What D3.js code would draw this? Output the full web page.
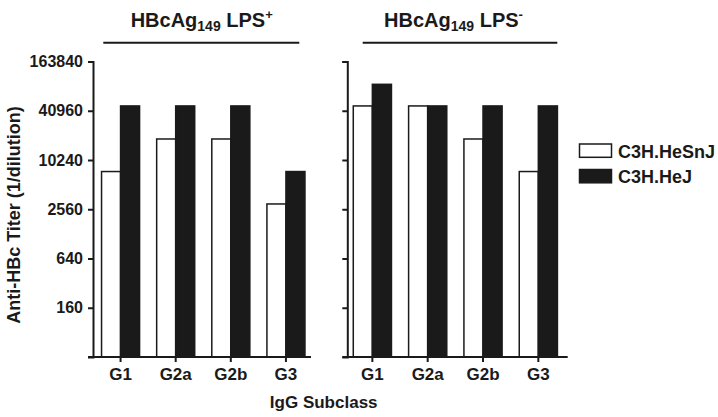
<!DOCTYPE html>
<html>
<head>
<meta charset="utf-8">
<script src="https://cdn.jsdelivr.net/npm/d3@7"></script>
<style>
  body { margin: 0; background: #fff; }
  svg text { font-family: "Liberation Sans", Arial, sans-serif; fill: #1a1a1a; }
</style>
</head>
<body>
<div id="chart"></div>
<script>
// data
var subclasses = ["G1", "G2a", "G2b", "G3"];
var strains = ["C3H.HeSnJ", "C3H.HeJ"];
var lpsPlusHeSnJ = [7400, 18500, 18500, 2970];
var lpsPlusHeJ = [46900, 46900, 46900, 7400];
var lpsMinusHeSnJ = [46900, 46900, 18500, 7400];
var lpsMinusHeJ = [86200, 46900, 46900, 46900];
var yTicks = [160, 640, 2560, 10240, 40960, 163840];
var yDomain = [40, 163840];

var width = 718, height = 417;
var fills = ["#ffffff", "#1a1a1a"];

var svg = d3.select("#chart").append("svg")
  .attr("width", width)
  .attr("height", height);

var y = d3.scaleLog().base(2)
  .domain(yDomain)
  .range([357, 61.5]);

var panels = [
  { title: "LPS", sign: "+", axisX: 93, band: [93, 313.5], axisEnd: 311,
    lineX: [103.3, 299.3], titleX: 201.7, labels: true,
    values: [lpsPlusHeSnJ, lpsPlusHeJ] },
  { title: "LPS", sign: "-", axisX: 347.3, band: [344.7, 566], axisEnd: 567.7,
    lineX: [362.7, 557.3], titleX: 453.5, labels: false,
    values: [lpsMinusHeSnJ, lpsMinusHeJ] }
];

panels.forEach(function(p) {
  var g = svg.append("g");

  var x0 = d3.scaleBand()
    .domain(subclasses)
    .range(p.band)
    .paddingInner(0.31)
    .paddingOuter(0.155);

  var x1 = d3.scaleBand()
    .domain(strains)
    .range([0, x0.bandwidth()]);

  // bars
  strains.forEach(function(s, si) {
    g.selectAll(".bar" + si)
      .data(p.values[si])
      .enter()
      .append("rect")
      .attr("x", function(d, i) { return x0(subclasses[i]) + x1(s); })
      .attr("width", x1.bandwidth())
      .attr("y", function(d) { return y(d); })
      .attr("height", function(d) { return y(yDomain[0]) - y(d); })
      .attr("fill", fills[si])
      .attr("stroke", "#1a1a1a")
      .attr("stroke-width", 1.5);
  });

  // y axis
  var yAxis = d3.axisLeft(y)
    .tickValues(yTicks)
    .tickSize(5)
    .tickSizeOuter(5)
    .tickPadding(5)
    .tickFormat(p.labels ? d3.format("d") : "");

  var ya = g.append("g")
    .attr("transform", "translate(" + p.axisX + ",0)")
    .call(yAxis);
  ya.selectAll("path, line").attr("stroke", "#1a1a1a").attr("stroke-width", 2);
  ya.selectAll("text")
    .attr("font-size", "16px")
    .attr("font-weight", "bold")
    .attr("fill", "#1a1a1a");

  // x axis
  var xa = g.append("g")
    .attr("transform", "translate(0," + y(yDomain[0]) + ")")
    .call(d3.axisBottom(x0).tickSize(5).tickSizeOuter(0).tickPadding(6));
  xa.select(".domain").remove();
  xa.append("line")
    .attr("x1", p.axisX - 5)
    .attr("x2", p.axisEnd)
    .attr("stroke", "#1a1a1a")
    .attr("stroke-width", 2);
  xa.selectAll(".tick line").attr("stroke", "#1a1a1a").attr("stroke-width", 2);
  xa.selectAll("text")
    .attr("font-size", "17px")
    .attr("font-weight", "bold")
    .attr("fill", "#1a1a1a");

  // panel title and bracket line
  var t = svg.append("text")
    .attr("x", p.titleX)
    .attr("y", 27.3)
    .attr("text-anchor", "middle")
    .attr("font-size", "20px")
    .attr("font-weight", "bold");
  t.append("tspan").text("HBcAg");
  t.append("tspan").attr("font-size", "14px").attr("dy", 4).text("149");
  t.append("tspan").attr("dy", -4).text(" " + p.title);
  t.append("tspan").attr("font-size", "13px").attr("dy", -8).text(p.sign);

  svg.append("line")
    .attr("x1", p.lineX[0])
    .attr("x2", p.lineX[1])
    .attr("y1", 42.7)
    .attr("y2", 42.7)
    .attr("stroke", "#1a1a1a")
    .attr("stroke-width", 2);
});

// axis titles
svg.append("text")
  .attr("transform", "translate(20,215) rotate(-90)")
  .attr("text-anchor", "middle")
  .attr("font-size", "18px")
  .attr("font-weight", "bold")
  .text("Anti-HBc Titer (1/dilution)");

svg.append("text")
  .attr("x", 323.7)
  .attr("y", 408)
  .attr("text-anchor", "middle")
  .attr("font-size", "17px")
  .attr("font-weight", "bold")
  .text("IgG Subclass");

// legend
var legend = svg.append("g").attr("transform", "translate(579.5,144)");
strains.forEach(function(s, i) {
  legend.append("rect")
    .attr("x", 0)
    .attr("y", i * 25.5)
    .attr("width", 32)
    .attr("height", 13.3)
    .attr("fill", fills[i])
    .attr("stroke", "#1a1a1a")
    .attr("stroke-width", 1.5);
  legend.append("text")
    .attr("x", 38.5)
    .attr("y", i * 25.5 + 13.5)
    .attr("font-size", "18px")
    .attr("font-weight", "bold")
    .text(s);
});
</script>
</body>
</html>
